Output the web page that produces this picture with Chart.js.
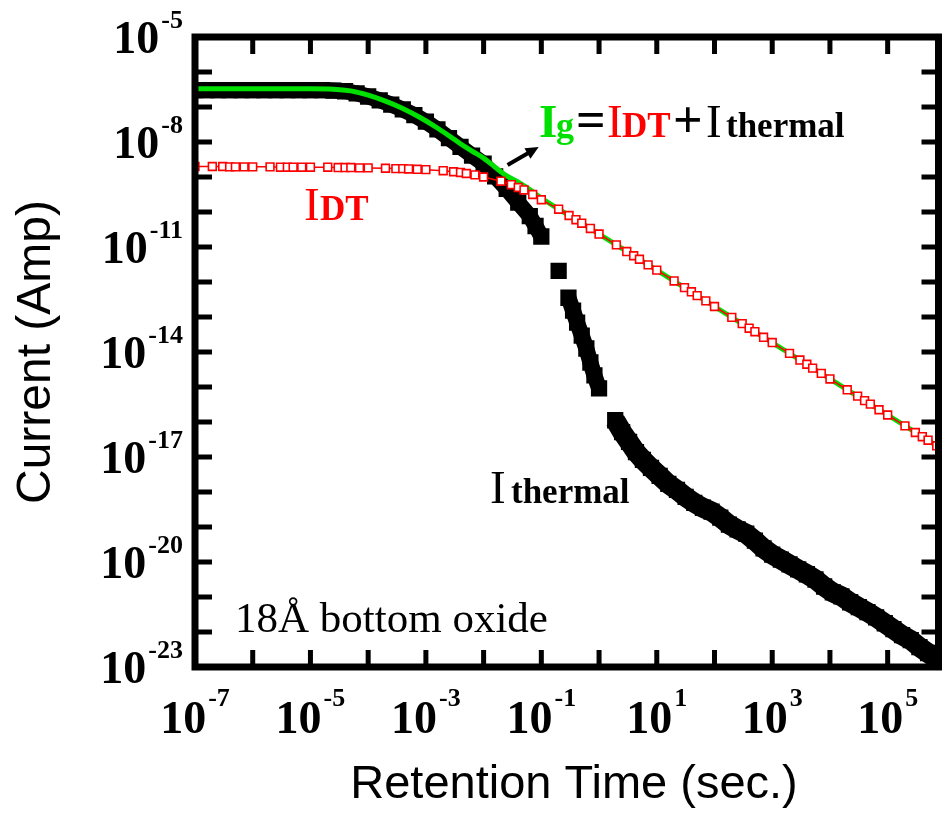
<!DOCTYPE html>
<html>
<head>
<meta charset="utf-8">
<script src="https://cdn.jsdelivr.net/npm/chart.js@4.4.1/dist/chart.umd.min.js"></script>
<style>
  html, body { margin: 0; padding: 0; background: #fff; }
  canvas { display: block; }
</style>
</head>
<body>
<canvas id="chart" width="950" height="814" style="width:950px;height:814px"></canvas>
<script>
// values as log10 (time in sec, current in A)

// I_thermal (big black squares)
const thermalLogT = [-7.0, -6.8, -6.6, -6.4, -6.2, -6.0, -5.8, -5.6, -5.4, -5.2, -5.0, -4.8, -4.6,
    -4.4, -4.2, -4.0, -3.8, -3.6, -3.4, -3.2, -3.0, -2.8, -2.6, -2.4, -2.2, -2.0, -1.8, -1.6, -1.4,
    -1.2, -1.1, -1.0, -0.70, -0.53, -0.45, -0.38, -0.30, -0.22, -0.15, -0.08, 0.00,
    0.28, 0.40, 0.52, 0.64, 0.76, 0.90, 1.05, 1.20, 1.35, 1.50, 1.65, 1.80, 1.95, 2.10, 2.25,
    2.40, 2.55, 2.70, 2.85, 3.00, 3.15, 3.30, 3.45, 3.60, 3.75, 3.90, 4.05, 4.20, 4.35, 4.50,
    4.65, 4.80, 4.95, 5.10, 5.25, 5.40, 5.55, 5.70, 5.85];
const thermalLogI = [-6.52, -6.52, -6.52, -6.52, -6.52, -6.52, -6.52, -6.52, -6.52, -6.52, -6.52, -6.52, -6.53,
    -6.55, -6.61, -6.70, -6.81, -6.93, -7.07, -7.23, -7.42, -7.64, -7.89, -8.14, -8.39, -8.62, -8.98, -9.34, -9.73,
    -10.12, -10.40, -10.70, -11.68, -12.45, -12.82, -13.16, -13.53, -13.90, -14.30, -14.67, -15.04,
    -15.95, -16.29, -16.57, -16.86, -17.08, -17.31, -17.54, -17.77, -17.94, -18.14, -18.31, -18.45, -18.56, -18.73, -18.93,
    -19.07, -19.19, -19.39, -19.61, -19.79, -19.93, -20.07, -20.21, -20.35, -20.50, -20.70, -20.87, -20.98, -21.15, -21.29,
    -21.43, -21.58, -21.75, -21.92, -22.09, -22.23, -22.43, -22.60, -22.77];

// I_DT (small open red squares)
const idtLogT = [-7.00,
    -6.70, -6.52, -6.40, -6.30, -6.15, -6.00,
    -5.70, -5.52, -5.40, -5.30, -5.15, -5.00,
    -4.70, -4.52, -4.40, -4.30, -4.15, -4.00,
    -3.70, -3.52, -3.40, -3.30, -3.15, -3.00,
    -2.70, -2.52, -2.40, -2.30, -2.15, -2.00,
    -1.70, -1.52, -1.40, -1.30, -1.15, -1.00,
    -0.70, -0.52, -0.40, -0.30, -0.15, 0.00,
    0.30, 0.48, 0.60, 0.70, 0.85, 1.00,
    1.30, 1.48, 1.60, 1.70, 1.85, 2.00,
    2.30, 2.48, 2.60, 2.70, 2.85, 3.00,
    3.30, 3.48, 3.60, 3.70, 3.85, 4.00,
    4.30, 4.48, 4.60, 4.70, 4.85, 5.00,
    5.30, 5.48, 5.60, 5.70, 5.85];
const idtLogI = [-8.70,
    -8.70, -8.70, -8.71, -8.71, -8.71, -8.71,
    -8.71, -8.72, -8.72, -8.72, -8.72, -8.72,
    -8.72, -8.73, -8.73, -8.73, -8.74, -8.74,
    -8.75, -8.76, -8.76, -8.77, -8.78, -8.79,
    -8.82, -8.85, -8.87, -8.90, -8.94, -9.00,
    -9.12, -9.22, -9.30, -9.37, -9.50, -9.65,
    -9.92, -10.10, -10.22, -10.32, -10.47, -10.63,
    -10.94, -11.13, -11.25, -11.35, -11.51, -11.66,
    -11.97, -12.16, -12.28, -12.39, -12.54, -12.70,
    -13.01, -13.19, -13.32, -13.42, -13.58, -13.73,
    -14.04, -14.23, -14.35, -14.46, -14.61, -14.77,
    -15.08, -15.26, -15.39, -15.49, -15.65, -15.80,
    -16.11, -16.30, -16.42, -16.52, -16.68];

// Ig (green line)
const igLogT = [-7.0, -6.0, -5.0, -4.6, -4.3, -4.0, -3.7, -3.4, -3.1, -2.8, -2.6, -2.4, -2.2, -2.0,
    -1.8, -1.6, -1.4, -1.2, -1.0, -0.7, -0.4, 0.0, 1.0, 2.0, 3.0, 4.0, 5.0, 5.88];
const igLogI = [-6.48, -6.48, -6.48, -6.49, -6.54, -6.66, -6.83, -7.04, -7.30, -7.60, -7.82, -8.05, -8.26, -8.46,
    -8.72, -8.97, -9.15, -9.36, -9.60, -9.92, -10.22, -10.63, -11.66, -12.70, -13.73, -14.77, -15.80, -16.71];

// axes
const xMin = 1e-7, xMax = 7.6e5;
const yMin = 1e-23, yMax = 1e-5;
const xTickExp = [-6, -5, -4, -3, -2, -1, 0, 1, 2, 3, 4, 5];
const xLabelExp = [-7, -5, -3, -1, 1, 3, 5];
const yTickExp = [-6, -7, -8, -9, -10, -11, -12, -13, -14, -15, -16, -17, -18, -19, -20, -21, -22];
const yLabelExp = [-5, -8, -11, -14, -17, -20, -23];

// arrow of the Ig label (sec, A)
const arrowFrom = { t: 0.026, i: 2.2e-9 };
const arrowTo = { t: 0.09, i: 7.2e-9 };

const GREEN = "#00e000";
const RED = "#ff0000";
const SERIF = '"Liberation Serif", "Times New Roman", serif';
const SANS = '"Liberation Sans", Arial, sans-serif';

const toPoints = (lt, li) => lt.map((v, k) => ({ x: Math.pow(10, v), y: Math.pow(10, li[k]) }));

function drawPow(ctx, exp, x, y, mode) {
    const base = "10", sup = String(exp);
    ctx.font = "bold 46px " + SERIF;
    const wb = ctx.measureText(base).width;
    ctx.font = "bold 26px " + SERIF;
    const ws = ctx.measureText(sup).width;
    ctx.textAlign = "left";
    ctx.textBaseline = "alphabetic";
    let bx, by, sx, sy;
    if (mode === "x") {
        const total = wb + 2 + ws;
        bx = x - total / 2; by = y + 66;
        sx = bx + wb + 2; sy = y + 39;
    } else {
        sx = 183 - ws; sy = y - 9;
        bx = sx - 2 - wb; by = y + 16;
    }
    ctx.font = "bold 46px " + SERIF;
    ctx.fillText(base, bx, by);
    ctx.font = "bold 26px " + SERIF;
    ctx.fillText(sup, sx, sy);
}

function drawParts(ctx, parts, baseline) {
    ctx.textAlign = "left";
    ctx.textBaseline = "alphabetic";
    parts.forEach((p) => {
        ctx.font = p.font;
        ctx.fillStyle = p.color;
        ctx.fillText(p.text, p.x, baseline);
    });
}

const framePlugin = {
    id: "frame",
    afterDraw(chart) {
        const { ctx, chartArea: a, scales: { x, y } } = chart;
        ctx.save();
        ctx.fillStyle = "#000";
        ctx.strokeStyle = "#000";

        // inward ticks on all four sides
        xTickExp.forEach((e) => {
            const px = x.getPixelForValue(Math.pow(10, e));
            ctx.fillRect(px - 2.5, a.bottom - 17, 5, 17);
            ctx.fillRect(px - 2.5, a.top, 5, 17);
        });
        yTickExp.forEach((e) => {
            const py = y.getPixelForValue(Math.pow(10, e));
            ctx.fillRect(a.left, py - 2.5, 17, 5);
            ctx.fillRect(a.right - 17, py - 2.5, 17, 5);
        });
        ctx.lineWidth = 7;
        ctx.strokeRect(a.left, a.top, a.right - a.left, a.bottom - a.top);

        // tick labels
        xLabelExp.forEach((e) => drawPow(ctx, e, x.getPixelForValue(Math.pow(10, e)), a.bottom, "x"));
        yLabelExp.forEach((e) => drawPow(ctx, e, 0, y.getPixelForValue(Math.pow(10, e)), "y"));

        // axis titles
        ctx.font = "47px " + SANS;
        ctx.textAlign = "center";
        ctx.fillText("Retention Time (sec.)", 574, 798);
        ctx.save();
        ctx.translate(50, 352);
        ctx.rotate(-Math.PI / 2);
        ctx.font = "48px " + SANS;
        ctx.fillText("Current (Amp)", 0, 0);
        ctx.restore();

        // labels inside the plot
        drawParts(ctx, [
            { text: "I", x: 539, font: "bold 47px " + SERIF, color: GREEN },
            { text: "g", x: 556, font: "bold 36px " + SERIF, color: GREEN },
            { text: "=", x: 576, font: "bold 52px " + SERIF, color: "#000" },
            { text: "I", x: 607, font: "47px " + SERIF, color: RED },
            { text: "DT", x: 622, font: "bold 35px " + SERIF, color: RED },
            { text: "+", x: 673, font: "bold 52px " + SERIF, color: "#000" },
            { text: "I", x: 706, font: "47px " + SERIF, color: "#000" },
            { text: "thermal", x: 726, font: "bold 35px " + SERIF, color: "#000" }
        ], 137);
        drawParts(ctx, [
            { text: "I", x: 304, font: "47px " + SERIF, color: RED },
            { text: "DT", x: 320, font: "bold 35px " + SERIF, color: RED }
        ], 220);
        drawParts(ctx, [
            { text: "I", x: 490, font: "47px " + SERIF, color: "#000" },
            { text: "thermal", x: 511, font: "bold 35px " + SERIF, color: "#000" }
        ], 503);
        drawParts(ctx, [
            { text: "18Å bottom oxide", x: 235, font: "43px " + SERIF, color: "#000" }
        ], 632);

        // arrow pointing at the Ig curve label
        const x0 = x.getPixelForValue(arrowFrom.t), y0 = y.getPixelForValue(arrowFrom.i);
        const x1 = x.getPixelForValue(arrowTo.t), y1 = y.getPixelForValue(arrowTo.i);
        const ang = Math.atan2(y1 - y0, x1 - x0);
        ctx.lineWidth = 4;
        ctx.beginPath();
        ctx.moveTo(x0, y0);
        ctx.lineTo(x1 - 8 * Math.cos(ang), y1 - 8 * Math.sin(ang));
        ctx.stroke();
        ctx.beginPath();
        ctx.moveTo(x1, y1);
        ctx.lineTo(x1 - 13 * Math.cos(ang) + 6 * Math.sin(ang), y1 - 13 * Math.sin(ang) - 6 * Math.cos(ang));
        ctx.lineTo(x1 - 13 * Math.cos(ang) - 6 * Math.sin(ang), y1 - 13 * Math.sin(ang) + 6 * Math.cos(ang));
        ctx.closePath();
        ctx.fill();
        ctx.restore();
    }
};

const whiteBg = {
    id: "whiteBg",
    beforeDraw(chart) {
        const ctx = chart.ctx;
        ctx.save();
        ctx.fillStyle = "#fff";
        ctx.fillRect(0, 0, chart.width, chart.height);
        ctx.restore();
    }
};

// the thermal band is continuous except where the points jump apart,
// and a bit fatter on the long tail after 1 s
const bandColor = (c) => (Math.abs(c.p1.y - c.p0.y) > 25 ? "rgba(0,0,0,0)" : "#000");
const bandWidth = (c) => (c.p0.parsed.x >= 1 ? 20 : 16);

new Chart(document.getElementById("chart"), {
    type: "scatter",
    data: {
        datasets: [
            {
                label: "IDT",
                data: toPoints(idtLogT, idtLogI),
                showLine: true,
                borderColor: RED,
                borderWidth: 1.5,
                pointStyle: "rect",
                pointRadius: 5.5,
                pointBorderWidth: 1.6,
                pointBorderColor: RED,
                pointBackgroundColor: "#fff",
                order: 1
            },
            {
                label: "Ig",
                data: toPoints(igLogT, igLogI),
                showLine: true,
                borderColor: GREEN,
                borderWidth: 5,
                cubicInterpolationMode: "monotone",
                pointRadius: 0,
                order: 2
            },
            {
                label: "Ithermal",
                data: toPoints(thermalLogT, thermalLogI),
                showLine: true,
                borderColor: "#000",
                borderWidth: 16,
                segment: { borderColor: bandColor, borderWidth: bandWidth },
                pointStyle: "rect",
                pointRadius: 11.5,
                pointBorderWidth: 0,
                pointBackgroundColor: "#000",
                pointBorderColor: "#000",
                order: 3
            }
        ]
    },
    options: {
        responsive: false,
        animation: false,
        events: [],
        layout: { padding: { left: 195, right: 7, top: 37, bottom: 147 } },
        plugins: { legend: { display: false }, tooltip: { enabled: false } },
        scales: {
            x: { type: "logarithmic", min: xMin, max: xMax, display: false },
            y: { type: "logarithmic", min: yMin, max: yMax, display: false }
        }
    },
    plugins: [whiteBg, framePlugin]
});
</script>
</body>
</html>
